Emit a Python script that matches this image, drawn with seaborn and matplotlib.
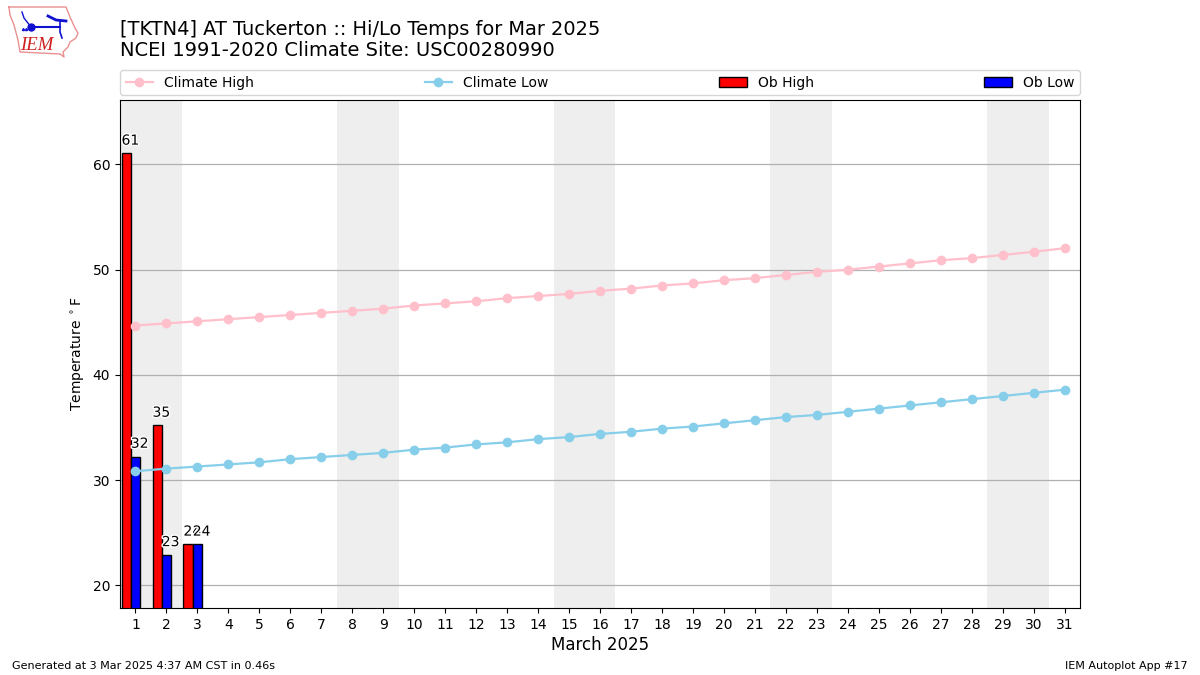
#!/usr/bin/env python3
import numpy as np
import matplotlib
matplotlib.use('Agg')
import matplotlib.pyplot as plt
import matplotlib.patheffects as pe
import seaborn as sns

# data
days = np.arange(1, 32)
climate_high = [44.7, 44.9, 45.1, 45.3, 45.5, 45.7, 45.9, 46.1, 46.3, 46.6, 46.8,
                47.0, 47.3, 47.5, 47.7, 48.0, 48.2, 48.5, 48.7, 49.0, 49.2, 49.5,
                49.8, 50.0, 50.3, 50.6, 50.9, 51.1, 51.4, 51.7, 52.05]
climate_low = [30.85, 31.1, 31.3, 31.5, 31.7, 32.0, 32.2, 32.4, 32.6, 32.9, 33.1,
               33.4, 33.6, 33.9, 34.1, 34.4, 34.6, 34.9, 35.1, 35.4, 35.7, 36.0,
               36.2, 36.5, 36.8, 37.1, 37.4, 37.7, 38.0, 38.3, 38.6]
ob_days = np.array([1, 2, 3])
ob_high = [61.05, 35.2, 23.9]
ob_low = [32.25, 22.9, 23.9]
ob_high_labels = ['61', '35', '24']
ob_low_labels = ['32', '23', '24']
weekends = [1, 8, 15, 22, 29]

fig = plt.figure(figsize=(12, 6.75), dpi=100)
ax = fig.add_axes([0.1, 0.0993, 0.8, 0.7526])

# weekend shading
for d in weekends:
    ax.axvspan(d - 0.5, d + 1.5, color='#eeeeee', lw=0, zorder=0)

sns.barplot(x=ob_days - 0.3, y=ob_high, native_scale=True, width=0.3, color='red',
            saturation=1, edgecolor='k', linewidth=1, ax=ax, zorder=2)
sns.barplot(x=ob_days, y=ob_low, native_scale=True, width=0.3, color='blue',
            saturation=1, edgecolor='k', linewidth=1, ax=ax, zorder=2)

sns.lineplot(x=days, y=climate_high, color='pink', marker='o', markersize=7,
             markeredgewidth=0, linewidth=1.6, label='Climate High', ax=ax, zorder=3)
sns.lineplot(x=days, y=climate_low, color='skyblue', marker='o', markersize=7,
             markeredgewidth=0, linewidth=1.6, label='Climate Low', ax=ax, zorder=3)

# value labels sit at the left edge of each bar
halo = [pe.withStroke(linewidth=2, foreground='white')]
for d, v, s in zip(ob_days, ob_high, ob_high_labels):
    ax.text(d - 0.45, v + 0.55, s, ha='left', va='bottom', fontsize=10,
            path_effects=halo, zorder=4)
for d, v, s in zip(ob_days, ob_low, ob_low_labels):
    ax.text(d - 0.15, v + 0.55, s, ha='left', va='bottom', fontsize=10,
            path_effects=halo, zorder=4)

ax.set_xlim(0.5, 31.5)
ax.set_ylim(17.86, 66.13)
ax.set_xticks(days)
ax.set_xticklabels([str(d) for d in days])
ax.set_yticks([20, 30, 40, 50, 60])
ax.yaxis.grid(True, color='#b0b0b0', lw=0.9)
ax.set_axisbelow(True)
ax.set_xlabel('March 2025', fontsize=12, labelpad=3)
ax.set_ylabel(r'Temperature $^\circ$F')

line_handles = ax.get_legend_handles_labels()[0]
bars_high = ax.containers[0]
bars_low = ax.containers[1]
ax.legend(line_handles[:2] + [bars_high, bars_low],
          ['Climate High', 'Climate Low', 'Ob High', 'Ob Low'],
          ncol=4, mode='expand', loc='lower left', fontsize=10,
          bbox_to_anchor=(0, 1.0095, 1, 0.05), borderaxespad=0)

fig.text(0.1, 0.9565, '[TKTN4] AT Tuckerton :: Hi/Lo Temps for Mar 2025',
         fontsize=13.98, va='center')
fig.text(0.1, 0.9245, 'NCEI 1991-2020 Climate Site: USC00280990', fontsize=14, va='center')
fig.text(0.01, 0.0135, 'Generated at 3 Mar 2025 4:37 AM CST in 0.46s', fontsize=8, va='center')
fig.text(0.99, 0.0135, 'IEM Autoplot App #17', fontsize=8, ha='right', va='center')

# rough IEM logo
logo = fig.add_axes([0.0, 0.91, 0.075, 0.09])
logo.set_xlim(0, 90)
logo.set_ylim(60.75, 0)
logo.axis('off')
logo.plot([9, 66, 70, 75, 78, 76, 70, 68, 63, 64, 60, 20, 18, 14, 10, 9],
          [7, 7, 17, 28, 33, 38, 42, 47, 52, 57, 54, 52, 40, 25, 15, 7],
          color='#e89090', lw=1)
logo.plot([31, 60], [27, 27], color='#1010d0', lw=1.5)
logo.plot([48, 56, 66], [16, 20, 21], color='#1010d0', lw=2)
logo.plot([31, 24, 22], [27, 18, 12], color='#1010d0', lw=1)
logo.plot([60, 60, 62], [21, 32, 38], color='#1010d0', lw=1.2)
logo.plot([31], [27], 'o', color='#1010d0', ms=5)
logo.plot([23, 26], [29, 29], '^', color='#1010d0', ms=1.5)
logo.text(20, 46, 'IEM', color='#d02020', fontsize=13.5, family='Liberation Serif',
          style='italic', va='center')

fig.savefig('out.png', dpi=100)
